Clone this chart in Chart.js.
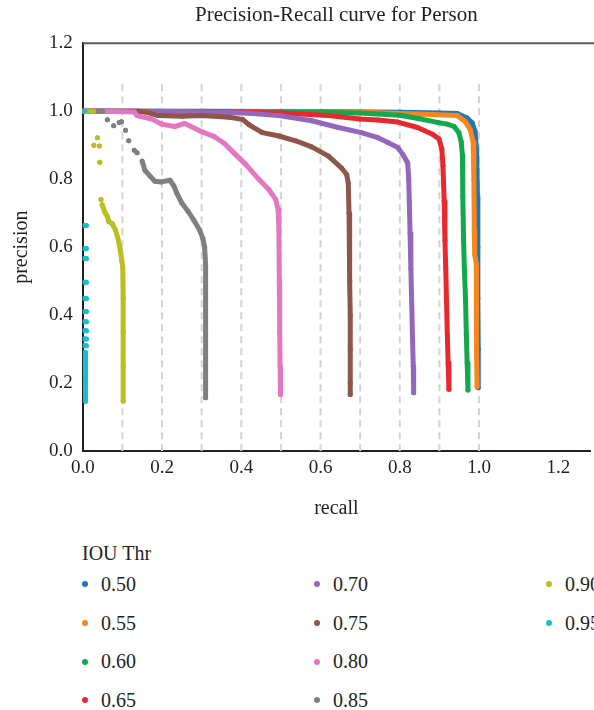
<!DOCTYPE html>
<html>
<head>
<meta charset="utf-8">
<script src="https://cdn.jsdelivr.net/npm/chart.js@4.4.1/dist/chart.umd.min.js"></script>
<style>
    html, body { margin: 0; padding: 0; background: #fff; }
    body { width: 594px; height: 710px; overflow: hidden; position: relative; font-family: "Liberation Serif", serif; color: #231f20; }
    #contenedor { position: absolute; left: 0; top: 0; width: 594px; height: 530px; }
    #leyenda { position: absolute; left: 82px; top: 541px; width: 720px; }
    #leyenda .titulo { font-size: 20px; line-height: 24px; height: 24px; }
    #leyenda .items { display: grid; grid-template-columns: 232px 232px 232px; grid-template-rows: repeat(4, 38.7px); grid-auto-flow: column; }
    #leyenda .item { display: flex; align-items: center; font-size: 20px; white-space: nowrap; }
    #leyenda .punto { width: 6px; height: 6px; border-radius: 50%; margin-right: 13px; }
</style>
</head>
<body>
<div id="contenedor"><canvas id="pr-grafica"></canvas></div>
<div id="leyenda"></div>

<script>
// umbrales IOU
const umbrales = ['0.50', '0.55', '0.60', '0.65', '0.70', '0.75', '0.80', '0.85', '0.90', '0.95'];
const colores = ['#1f77b4', '#f7861f', '#12a84b', '#e8282d', '#9467bd', '#8c564b', '#e377c2', '#7f7f7f', '#bcbd22', '#17becf'];

// puntos [recall, precision]; null = hueco
const iou50 = [[0, 1.0], [0.3, 1.0], [0.6, 0.999], [0.8, 0.997], [0.9, 0.995], [0.945, 0.993], [0.97, 0.98], [0.983, 0.965], [0.99, 0.94], [0.994, 0.88], [0.996, 0.75], [0.997, 0.6], [0.997, 0.45], [0.998, 0.3], [0.998, 0.187]];
const iou55 = [[0, 1.0], [0.4, 0.999], [0.7, 0.997], [0.85, 0.992], [0.945, 0.987], [0.965, 0.97], [0.978, 0.945], [0.985, 0.91], [0.987, 0.8], [0.988, 0.65], [0.989, 0.58], [0.993, 0.55], [0.993, 0.4], [0.994, 0.3], [0.995, 0.19]];
const iou60 = [[0, 1.0], [0.5, 0.998], [0.7, 0.995], [0.8, 0.988], [0.85, 0.978], [0.895, 0.967], [0.92, 0.962], [0.937, 0.955], [0.949, 0.937], [0.955, 0.91], [0.958, 0.87], [0.959, 0.75], [0.961, 0.62], [0.963, 0.537], [0.966, 0.44], [0.968, 0.34], [0.97, 0.26], [0.972, 0.18]];
const iou65 = [[0, 1.0], [0.37, 0.998], [0.5, 0.995], [0.62, 0.987], [0.7, 0.977], [0.745, 0.974], [0.795, 0.968], [0.845, 0.952], [0.8825, 0.932], [0.899, 0.918], [0.906, 0.89], [0.909, 0.84], [0.912, 0.735], [0.914, 0.62], [0.916, 0.537], [0.918, 0.44], [0.92, 0.34], [0.922, 0.26], [0.924, 0.182]];
const iou70 = [[0, 1.0], [0.19, 1.0], [0.33, 0.997], [0.42, 0.994], [0.495, 0.987], [0.578, 0.972], [0.645, 0.952], [0.703, 0.937], [0.745, 0.922], [0.77, 0.908], [0.795, 0.893], [0.8075, 0.873], [0.82, 0.848], [0.8225, 0.8], [0.824, 0.735], [0.826, 0.64], [0.828, 0.537], [0.83, 0.44], [0.832, 0.34], [0.834, 0.25], [0.835, 0.172]];
const iou75 = [[0, 1.0], [0.14, 1.0], [0.165, 0.996], [0.19, 0.987], [0.25, 0.985], [0.3, 0.987], [0.37, 0.982], [0.403, 0.976], [0.42, 0.96], [0.453, 0.937], [0.495, 0.927], [0.537, 0.913], [0.578, 0.895], [0.62, 0.868], [0.653, 0.833], [0.666, 0.814], [0.67, 0.789], [0.672, 0.7], [0.673, 0.6], [0.674, 0.5], [0.675, 0.4], [0.675, 0.3], [0.675, 0.2], [0.675, 0.167]];
const iou80 = [[0, 1.0], [0.05, 1.0], [0.13, 0.998], [0.137, 0.987], [0.174, 0.977], [0.199, 0.962], [0.2325, 0.955], [0.2575, 0.964], [0.299, 0.94], [0.3325, 0.925], [0.3575, 0.905], [0.3825, 0.876], [0.41, 0.845], [0.445, 0.799], [0.47, 0.769], [0.487, 0.74], [0.493, 0.71], [0.495, 0.65], [0.496, 0.5], [0.497, 0.35], [0.498, 0.25], [0.499, 0.167]];
const iou85 = [[0, 1.0], [0.05, 1.0], null, [0.062, 0.975], null, [0.078, 0.957], null, [0.092, 0.967], null, [0.0975, 0.969], null, [0.108, 0.944], null, [0.116, 0.913], null, [0.13, 0.885], null, [0.137, 0.878],
    null, [0.15, 0.853], [0.157, 0.826], [0.17, 0.809], [0.182, 0.794], [0.198, 0.792], [0.22, 0.797], [0.23, 0.78], [0.237, 0.76], [0.25, 0.73], [0.266, 0.705], [0.28, 0.68], [0.295, 0.65], [0.303, 0.626], [0.3075, 0.6], [0.31, 0.55], [0.31, 0.45], [0.31, 0.35], [0.31, 0.25], [0.31, 0.157]];
const iou90 = [[0.004, 1.0], [0.027, 1.0], null, [0.028, 0.9], null, [0.037, 0.922], null, [0.042, 0.898], null, [0.043, 0.85], null, [0.046, 0.74], null,
    [0.049, 0.725], [0.055, 0.705], [0.062, 0.69], [0.066, 0.675], [0.074, 0.67], [0.0825, 0.651], [0.09, 0.62], [0.095, 0.59], [0.0985, 0.56], [0.101, 0.54], [0.102, 0.45], [0.102, 0.35], [0.102, 0.25], [0.102, 0.147]];
const iou95 = [[0, 1.0], [0.005, 1.0], null, [0.004, 0.664], [0.009, 0.664], null, [0.004, 0.596], [0.009, 0.596], null, [0.004, 0.567], [0.009, 0.567], null, [0.004, 0.497], [0.009, 0.497], null,
    [0.004, 0.449], [0.009, 0.449], null, [0.004, 0.411], [0.009, 0.411], null, [0.004, 0.381], [0.009, 0.381], null, [0.004, 0.354], [0.009, 0.354], null, [0.004, 0.33], [0.009, 0.33], null,
    [0.004, 0.31], [0.009, 0.31], null, [0.006, 0.29], [0.007, 0.28], [0.007, 0.22], [0.007, 0.147]];
const curvas = [iou50, iou55, iou60, iou65, iou70, iou75, iou80, iou85, iou90, iou95];

// lineas guia discontinuas
const guiasRecall = [0.1, 0.2, 0.3, 0.4, 0.5, 0.6, 0.7, 0.8, 0.9, 1.0];
const guiaAltura = 1.09;

const ticksX = [0, 0.2, 0.4, 0.6, 0.8, 1.0, 1.2];
const ticksY = [0, 0.2, 0.4, 0.6, 0.8, 1.0, 1.2];

(function(){
    const grafica = document.querySelector('#pr-grafica');
    if(!grafica) return;

    const aPuntos = lista => lista.map(p => p ? { x: p[0], y: p[1] } : { x: null, y: null });

    const guias = [];
    guiasRecall.forEach(r => {
        guias.push({ x: r, y: 0 }, { x: r, y: guiaAltura }, { x: null, y: null });
    });

    const datasets = curvas.map((curva, i) => ({
        label: umbrales[i],
        data: aPuntos(curva),
        showLine: true,
        borderColor: colores[i],
        backgroundColor: colores[i],
        borderWidth: 5,
        borderCapStyle: 'round',
        borderJoinStyle: 'round',
        pointRadius: 2.5,
        pointBorderWidth: 0,
        order: curvas.length - 1 - i
    }));

    datasets.push({
        label: 'guias',
        data: guias,
        showLine: true,
        borderColor: '#d3d3d3',
        borderWidth: 2,
        borderDash: [7, 5],
        pointRadius: 0,
        order: 99
    });

    const marco = {
        id: 'marco',
        afterDraw(chart) {
            const { ctx, chartArea } = chart;
            ctx.save();
            ctx.strokeStyle = '#5a5a5a';
            ctx.lineWidth = 2;
            ctx.beginPath();
            ctx.moveTo(chartArea.left, chartArea.top);
            ctx.lineTo(chart.width, chartArea.top);
            ctx.stroke();
            ctx.restore();
        }
    };

    const fuente = (size) => ({ family: '"Liberation Serif", serif', size: size });

    new Chart(grafica, {
        type: 'scatter',
        data: { datasets },
        plugins: [marco],
        options: {
            responsive: true,
            maintainAspectRatio: false,
            animation: false,
            events: [],
            layout: { padding: { left: 8, right: 0, top: 0, bottom: 5 } },
            scales: {
                x: {
                    type: 'linear',
                    min: 0,
                    max: 1.28,
                    afterBuildTicks: axis => { axis.ticks = ticksX.map(v => ({ value: v })); },
                    ticks: { color: '#231f20', font: fuente(19), padding: 5, callback: v => v.toFixed(1), maxRotation: 0 },
                    grid: { display: false, drawTicks: false },
                    border: { color: '#231f20', width: 2 },
                    title: { display: true, text: 'recall', color: '#231f20', font: fuente(20), padding: { top: 13, bottom: 4 } }
                },
                y: {
                    type: 'linear',
                    min: 0,
                    max: 1.2,
                    afterBuildTicks: axis => { axis.ticks = ticksY.map(v => ({ value: v })); },
                    ticks: { color: '#231f20', font: fuente(19), padding: 10, callback: v => v.toFixed(1) },
                    grid: { display: false, drawTicks: false },
                    border: { color: '#231f20', width: 2 },
                    title: { display: true, text: 'precision', color: '#231f20', font: fuente(20), padding: { top: 2, bottom: 5 } }
                }
            },
            plugins: {
                legend: { display: false },
                tooltip: { enabled: false },
                title: {
                    display: true,
                    text: 'Precision-Recall curve for Person',
                    color: '#231f20',
                    font: { ...fuente(21), weight: 'normal' },
                    fullSize: false,
                    padding: { top: 3, bottom: 15 }
                }
            }
        }
    });

    // leyenda en columnas
    const leyenda = document.querySelector('#leyenda');
    leyenda.innerHTML = '<div class="titulo">IOU Thr</div><div class="items"></div>';
    const items = leyenda.querySelector('.items');
    umbrales.forEach((u, i) => {
        const item = document.createElement('div');
        item.className = 'item';
        item.innerHTML = `<span class="punto" style="background:${colores[i]}"></span><span>${u}</span>`;
        items.appendChild(item);
    });
})();
</script>
</body>
</html>
